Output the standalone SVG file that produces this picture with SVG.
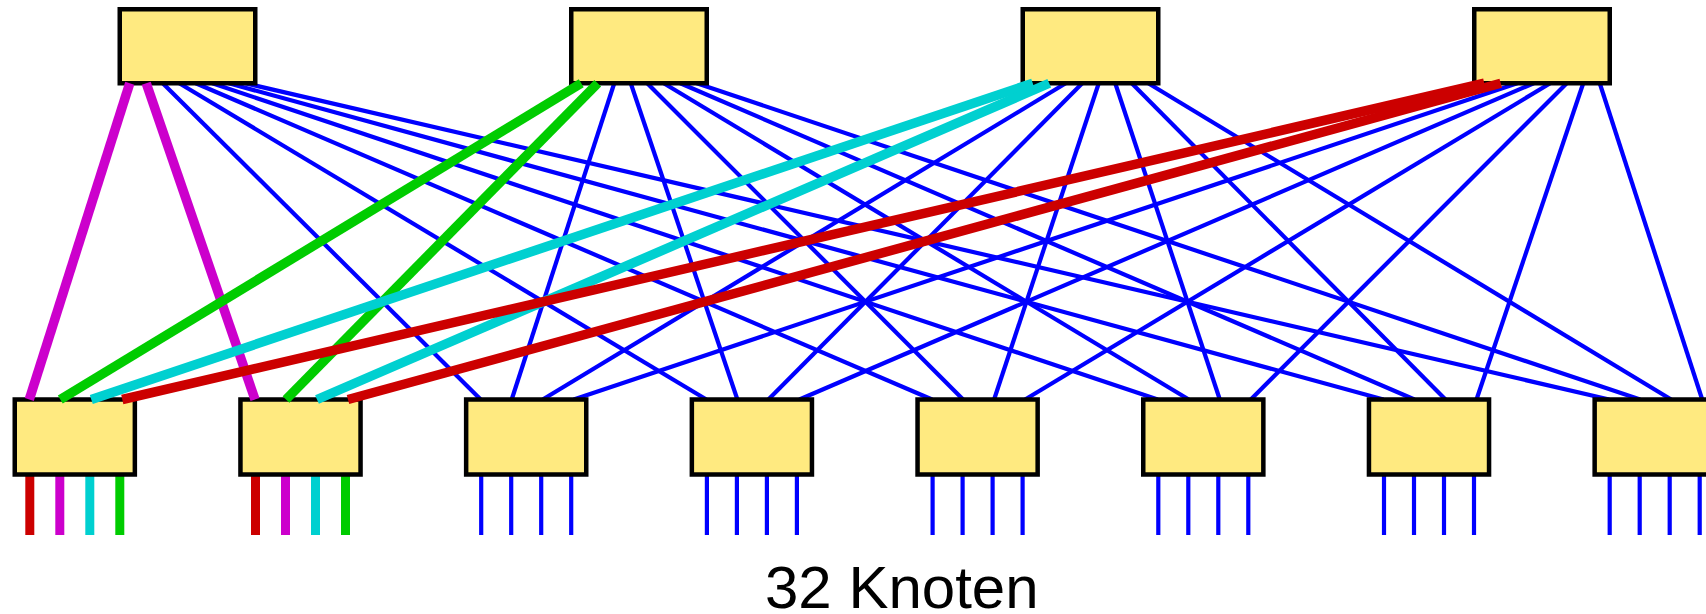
<svg xmlns="http://www.w3.org/2000/svg" width="1706" height="614" viewBox="0 0 1706 614">
<style>
.box{fill:#ffea80;stroke:#000;stroke-width:4.5}
.b{stroke:#0000ff;stroke-width:4.2;fill:none}
.t{stroke-width:9.5;fill:none}
.pin{stroke-width:9}
.bp{stroke:#0000ff;stroke-width:4.2}
.m{stroke:#cc00cc}.g{stroke:#00cc00}.c{stroke:#00d0d0}.r{stroke:#cc0000}
text{font-family:"Liberation Sans",Arial,sans-serif;font-size:60px;fill:#000}
</style>
<g id="connectors-blue">
<line class="b" x1="162.75" y1="83.25" x2="480.7" y2="399.5"/>
<line class="b" x1="179.25" y1="83.25" x2="706.4" y2="399.5"/>
<line class="b" x1="195.75" y1="83.25" x2="932.1" y2="399.5"/>
<line class="b" x1="212.25" y1="83.25" x2="1157.8" y2="399.5"/>
<line class="b" x1="228.75" y1="83.25" x2="1383.5" y2="399.5"/>
<line class="b" x1="245.25" y1="83.25" x2="1609.2" y2="399.5"/>
<line class="b" x1="614.25" y1="83.25" x2="511.7" y2="399.5"/>
<line class="b" x1="630.75" y1="83.25" x2="737.4" y2="399.5"/>
<line class="b" x1="647.25" y1="83.25" x2="963.1" y2="399.5"/>
<line class="b" x1="663.75" y1="83.25" x2="1188.8" y2="399.5"/>
<line class="b" x1="680.25" y1="83.25" x2="1414.5" y2="399.5"/>
<line class="b" x1="696.75" y1="83.25" x2="1640.2" y2="399.5"/>
<line class="b" x1="1065.75" y1="83.25" x2="542.7" y2="399.5"/>
<line class="b" x1="1082.25" y1="83.25" x2="768.4" y2="399.5"/>
<line class="b" x1="1098.75" y1="83.25" x2="994.1" y2="399.5"/>
<line class="b" x1="1115.25" y1="83.25" x2="1219.8" y2="399.5"/>
<line class="b" x1="1131.75" y1="83.25" x2="1445.5" y2="399.5"/>
<line class="b" x1="1148.25" y1="83.25" x2="1671.2" y2="399.5"/>
<line class="b" x1="1517.25" y1="83.25" x2="573.7" y2="399.5"/>
<line class="b" x1="1533.75" y1="83.25" x2="799.4" y2="399.5"/>
<line class="b" x1="1550.25" y1="83.25" x2="1025.1" y2="399.5"/>
<line class="b" x1="1566.75" y1="83.25" x2="1250.8" y2="399.5"/>
<line class="b" x1="1583.25" y1="83.25" x2="1476.5" y2="399.5"/>
<line class="b" x1="1599.75" y1="83.25" x2="1702.2" y2="399.5"/>
</g>
<g id="pins">
<line class="pin r" x1="29.8" y1="476" x2="29.8" y2="535"/>
<line class="pin m" x1="59.8" y1="476" x2="59.8" y2="535"/>
<line class="pin c" x1="89.8" y1="476" x2="89.8" y2="535"/>
<line class="pin g" x1="119.8" y1="476" x2="119.8" y2="535"/>
<line class="pin r" x1="255.5" y1="476" x2="255.5" y2="535"/>
<line class="pin m" x1="285.5" y1="476" x2="285.5" y2="535"/>
<line class="pin c" x1="315.5" y1="476" x2="315.5" y2="535"/>
<line class="pin g" x1="345.5" y1="476" x2="345.5" y2="535"/>
<line class="bp" x1="481.2" y1="476" x2="481.2" y2="535"/>
<line class="bp" x1="511.2" y1="476" x2="511.2" y2="535"/>
<line class="bp" x1="541.2" y1="476" x2="541.2" y2="535"/>
<line class="bp" x1="571.2" y1="476" x2="571.2" y2="535"/>
<line class="bp" x1="706.9" y1="476" x2="706.9" y2="535"/>
<line class="bp" x1="736.9" y1="476" x2="736.9" y2="535"/>
<line class="bp" x1="766.9" y1="476" x2="766.9" y2="535"/>
<line class="bp" x1="796.9" y1="476" x2="796.9" y2="535"/>
<line class="bp" x1="932.6" y1="476" x2="932.6" y2="535"/>
<line class="bp" x1="962.6" y1="476" x2="962.6" y2="535"/>
<line class="bp" x1="992.6" y1="476" x2="992.6" y2="535"/>
<line class="bp" x1="1022.6" y1="476" x2="1022.6" y2="535"/>
<line class="bp" x1="1158.3" y1="476" x2="1158.3" y2="535"/>
<line class="bp" x1="1188.3" y1="476" x2="1188.3" y2="535"/>
<line class="bp" x1="1218.3" y1="476" x2="1218.3" y2="535"/>
<line class="bp" x1="1248.3" y1="476" x2="1248.3" y2="535"/>
<line class="bp" x1="1384" y1="476" x2="1384" y2="535"/>
<line class="bp" x1="1414" y1="476" x2="1414" y2="535"/>
<line class="bp" x1="1444" y1="476" x2="1444" y2="535"/>
<line class="bp" x1="1474" y1="476" x2="1474" y2="535"/>
<line class="bp" x1="1609.7" y1="476" x2="1609.7" y2="535"/>
<line class="bp" x1="1639.7" y1="476" x2="1639.7" y2="535"/>
<line class="bp" x1="1669.7" y1="476" x2="1669.7" y2="535"/>
<line class="bp" x1="1699.7" y1="476" x2="1699.7" y2="535"/>
</g>
<g id="top1"><rect class="box" x="119.75" y="9.25" width="135.5" height="74"/></g>
<g id="top2"><rect class="box" x="571.25" y="9.25" width="135.5" height="74"/></g>
<g id="top3"><rect class="box" x="1022.75" y="9.25" width="135.5" height="74"/></g>
<g id="top4"><rect class="box" x="1474.25" y="9.25" width="135.5" height="74"/></g>
<g id="leaf1"><rect class="box" x="14.75" y="399.5" width="120.1" height="75"/></g>
<g id="leaf2"><rect class="box" x="240.45" y="399.5" width="120.1" height="75"/></g>
<g id="leaf3"><rect class="box" x="466.15" y="399.5" width="120.1" height="75"/></g>
<g id="leaf4"><rect class="box" x="691.85" y="399.5" width="120.1" height="75"/></g>
<g id="leaf5"><rect class="box" x="917.55" y="399.5" width="120.1" height="75"/></g>
<g id="leaf6"><rect class="box" x="1143.25" y="399.5" width="120.1" height="75"/></g>
<g id="leaf7"><rect class="box" x="1368.95" y="399.5" width="120.1" height="75"/></g>
<g id="leaf8"><rect class="box" x="1594.65" y="399.5" width="120.1" height="75"/></g>
<g id="connectors-colored">
<line class="t m" x1="129.75" y1="83.25" x2="29.3" y2="399.5"/>
<line class="t m" x1="146.25" y1="83.25" x2="255" y2="399.5"/>
<line class="t g" x1="581.25" y1="83.25" x2="60.3" y2="399.5"/>
<line class="t g" x1="597.75" y1="83.25" x2="286" y2="399.5"/>
<line class="t c" x1="1032.75" y1="83.25" x2="91.3" y2="399.5"/>
<line class="t c" x1="1049.25" y1="83.25" x2="317" y2="399.5"/>
<line class="t r" x1="1484.25" y1="83.25" x2="122.3" y2="399.5"/>
<line class="t r" x1="1500.75" y1="83.25" x2="348" y2="399.5"/>
</g>
<text x="765" y="607.5">32 Knoten</text>
</svg>
